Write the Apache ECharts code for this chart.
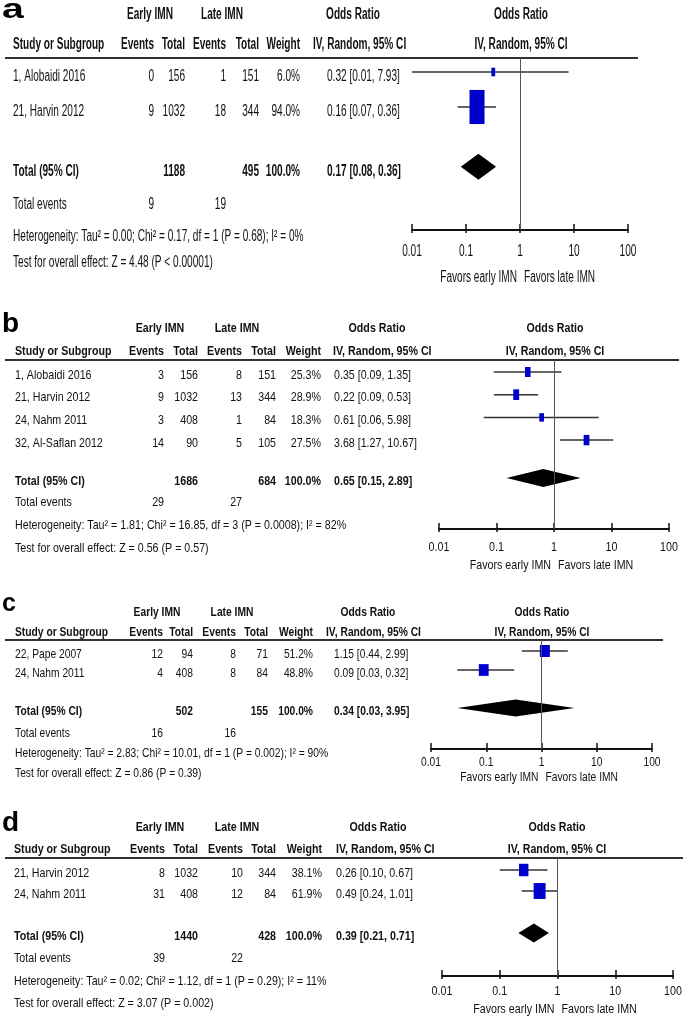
<!DOCTYPE html>
<html>
<head>
<meta charset="utf-8">
<script src="https://cdn.jsdelivr.net/npm/echarts@6/dist/echarts.min.js"></script>
<style>
html,body{margin:0;padding:0;background:#fff;}
#chart{width:685px;height:1020px;}
</style>
</head>
<body>
<div id="chart"></div>
<script>
// ---------------- DATA ----------------
const panelLetters = ['a', 'b', 'c', 'd'];
const tickValues = [0.01, 0.1, 1, 10, 100];
const tickLabels = ['0.01', '0.1', '1', '10', '100'];

// Panel a
const studiesA = ['1, Alobaidi 2016', '21, Harvin 2012'];
const earlyEventsA = [0, 9];
const earlyTotalA = [156, 1032];
const lateEventsA = [1, 18];
const lateTotalA = [151, 344];
const weightA = [6.0, 94.0];
const orA = [0.32, 0.16];
const loA = [0.01, 0.07];
const hiA = [7.93, 0.36];
const pooledA = [0.17, 0.08, 0.36];
const totalsA = [1188, 495];
const eventsA = [9, 19];
const hetA = 'Heterogeneity: Tau² = 0.00; Chi² = 0.17, df = 1 (P = 0.68); I² = 0%';
const testA = 'Test for overall effect: Z = 4.48 (P < 0.00001)';

// Panel b
const studiesB = ['1, Alobaidi 2016', '21, Harvin 2012', '24, Nahm 2011', '32, Al-Saflan 2012'];
const earlyEventsB = [3, 9, 3, 14];
const earlyTotalB = [156, 1032, 408, 90];
const lateEventsB = [8, 13, 1, 5];
const lateTotalB = [151, 344, 84, 105];
const weightB = [25.3, 28.9, 18.3, 27.5];
const orB = [0.35, 0.22, 0.61, 3.68];
const loB = [0.09, 0.09, 0.06, 1.27];
const hiB = [1.35, 0.53, 5.98, 10.67];
const pooledB = [0.65, 0.15, 2.89];
const totalsB = [1686, 684];
const eventsB = [29, 27];
const hetB = 'Heterogeneity: Tau² = 1.81; Chi² = 16.85, df = 3 (P = 0.0008); I² = 82%';
const testB = 'Test for overall effect: Z = 0.56 (P = 0.57)';

// Panel c
const studiesC = ['22, Pape 2007', '24, Nahm 2011'];
const earlyEventsC = [12, 4];
const earlyTotalC = [94, 408];
const lateEventsC = [8, 8];
const lateTotalC = [71, 84];
const weightC = [51.2, 48.8];
const orC = [1.15, 0.09];
const loC = [0.44, 0.03];
const hiC = [2.99, 0.32];
const pooledC = [0.34, 0.03, 3.95];
const totalsC = [502, 155];
const eventsC = [16, 16];
const hetC = 'Heterogeneity: Tau² = 2.83; Chi² = 10.01, df = 1 (P = 0.002); I² = 90%';
const testC = 'Test for overall effect: Z = 0.86 (P = 0.39)';

// Panel d
const studiesD = ['21, Harvin 2012', '24, Nahm 2011'];
const earlyEventsD = [8, 31];
const earlyTotalD = [1032, 408];
const lateEventsD = [10, 12];
const lateTotalD = [344, 84];
const weightD = [38.1, 61.9];
const orD = [0.26, 0.49];
const loD = [0.10, 0.24];
const hiD = [0.67, 1.01];
const pooledD = [0.39, 0.21, 0.71];
const totalsD = [1440, 428];
const eventsD = [39, 22];
const hetD = 'Heterogeneity: Tau² = 0.02; Chi² = 1.12, df = 1 (P = 0.29); I² = 11%';
const testD = 'Test for overall effect: Z = 3.07 (P = 0.002)';

// ---------------- LAYOUT (pixels / styles) ----------------
const FONT = '"Liberation Sans", Arial, Helvetica, sans-serif';
const TXT = '#111';
const layouts = [
  { letterY: 11, letterSx: 1.45, letterFs: 27, groupY: 15, colY: 45, ruleY: 58, ruleR: 638, plotL: 412, plotR: 628, axisY: 230,
    rowY0: 72, step: 35, totalIdx: 2.71, textDy: 5, eventsY: 205, hetY: 237, testY: 263, tickY: 252, favorsY: 278,
    fs: 16, sx: 0.63, study: 13, ev1R: 154, tot1R: 185, ev2R: 226, tot2R: 259, wR: 300, ivL: 313, orL: 327,
    earlyC: 150, lateC: 222, orC: 353, rightC: 521, boxK: 1.55, boxAsp: 2.27, diaH: 13 },
  { letterY: 324, letterSx: 1.0, letterFs: 28, groupY: 328, colY: 351, ruleY: 360, ruleR: 679, plotL: 439, plotR: 669, axisY: 529,
    rowY0: 372, step: 22.7, totalIdx: 4.67, textDy: 3, eventsY: 502, hetY: 525, testY: 548, tickY: 547, favorsY: 565,
    fs: 13.5, sx: 0.79, study: 15, ev1R: 164, tot1R: 198, ev2R: 242, tot2R: 276, wR: 321, ivL: 333, orL: 334,
    earlyC: 160, lateC: 237, orC: 377, rightC: 555, boxK: 1.1, boxAsp: 1.8, diaH: 9 },
  { letterY: 604, letterSx: 1.0, letterFs: 25, groupY: 612, colY: 632, ruleY: 640, ruleR: 663, plotL: 431, plotR: 652, axisY: 749,
    rowY0: 651, step: 19, totalIdx: 3.0, textDy: 3, eventsY: 733, hetY: 753, testY: 773, tickY: 762, favorsY: 777,
    fs: 13, sx: 0.79, study: 15, ev1R: 163, tot1R: 193, ev2R: 236, tot2R: 268, wR: 313, ivL: 326, orL: 334,
    earlyC: 157, lateC: 232, orC: 368, rightC: 542, boxK: 1.4, boxAsp: 1.2, diaH: 8.5 },
  { letterY: 823, letterSx: 1.0, letterFs: 28, groupY: 827, colY: 849, ruleY: 858, ruleR: 683, plotL: 442, plotR: 673, axisY: 976,
    rowY0: 870, step: 21, totalIdx: 3.0, textDy: 3, eventsY: 958, hetY: 981, testY: 1003, tickY: 991, favorsY: 1009,
    fs: 13.5, sx: 0.79, study: 14, ev1R: 165, tot1R: 198, ev2R: 243, tot2R: 276, wR: 322, ivL: 336, orL: 336,
    earlyC: 160, lateC: 237, orC: 378, rightC: 557, boxK: 1.52, boxAsp: 1.33, diaH: 9.5 }
];

const panels = [
  { studies: studiesA, ee: earlyEventsA, et: earlyTotalA, le: lateEventsA, lt: lateTotalA, w: weightA, or: orA, lo: loA, hi: hiA, pooled: pooledA, totals: totalsA, events: eventsA, het: hetA, test: testA },
  { studies: studiesB, ee: earlyEventsB, et: earlyTotalB, le: lateEventsB, lt: lateTotalB, w: weightB, or: orB, lo: loB, hi: hiB, pooled: pooledB, totals: totalsB, events: eventsB, het: hetB, test: testB },
  { studies: studiesC, ee: earlyEventsC, et: earlyTotalC, le: lateEventsC, lt: lateTotalC, w: weightC, or: orC, lo: loC, hi: hiC, pooled: pooledC, totals: totalsC, events: eventsC, het: hetC, test: testC },
  { studies: studiesD, ee: earlyEventsD, et: earlyTotalD, le: lateEventsD, lt: lateTotalD, w: weightD, or: orD, lo: loD, hi: hiD, pooled: pooledD, totals: totalsD, events: eventsD, het: hetD, test: testD }
];

// ---------------- BUILD ----------------
function txt(x, y, s, L, opt) {
  opt = opt || {};
  const fs = opt.fs || L.fs;
  const align = opt.align || 'left';
  return {
    type: 'text', x: x, y: y, scaleX: opt.sx != null ? opt.sx : L.sx, silent: true, z: 10,
    style: {
      text: s, font: (opt.bold ? 'bold ' : '') + fs + 'px ' + FONT, fill: opt.color || TXT,
      textAlign: align, align: align, textVerticalAlign: 'middle', verticalAlign: 'middle'
    }
  };
}
function fmtOR(o, l, h) { return o.toFixed(2) + ' [' + l.toFixed(2) + ', ' + h.toFixed(2) + ']'; }

const grids = [], xAxes = [], yAxes = [], series = [], graphics = [];

panels.forEach(function (P, i) {
  const L = layouts[i];
  grids.push({ left: L.plotL, top: L.ruleY, width: L.plotR - L.plotL, height: L.axisY - L.ruleY, containLabel: false });
  const common = { gridIndex: i, type: 'log', logBase: 10, min: 0.01, max: 100, position: 'bottom', splitLine: { show: false } };
  xAxes.push(Object.assign({}, common, {
    axisLine: { show: true, onZero: false, lineStyle: { color: '#111', width: 2 } },
    axisTick: { show: true, inside: true, length: 6, lineStyle: { color: '#111', width: 1.5 } },
    axisLabel: { show: false }
  }));
  xAxes.push(Object.assign({}, common, {
    axisLine: { show: false, onZero: false },
    axisTick: { show: true, inside: false, length: 3, lineStyle: { color: '#111', width: 1.5 } },
    axisLabel: { show: false }
  }));
  yAxes.push({
    gridIndex: i, type: 'value', inverse: true, show: false,
    min: (L.ruleY - L.rowY0) / L.step, max: (L.axisY - L.rowY0) / L.step
  });

  const studyData = P.studies.map(function (s, k) { return [P.or[k], k, P.lo[k], P.hi[k], P.w[k]]; });
  series.push({
    type: 'custom', xAxisIndex: 2 * i, yAxisIndex: i, silent: true, z: 3,
    data: studyData,
    encode: { x: 0, y: 1 },
    renderItem: function (params, api) {
      const idx = api.value(1);
      const c = api.coord([api.value(0), idx]);
      const pl = api.coord([api.value(2), idx]);
      const ph = api.coord([api.value(3), idx]);
      const bw = L.boxK * Math.sqrt(api.value(4));
      const bh = bw * L.boxAsp;
      return {
        type: 'group', children: [
          { type: 'line', shape: { x1: pl[0], y1: c[1], x2: ph[0], y2: c[1] }, style: { stroke: '#333', lineWidth: 1.5 } },
          { type: 'rect', shape: { x: c[0] - bw / 2, y: c[1] - bh / 2, width: bw, height: bh }, style: { fill: '#0000cc' } }
        ]
      };
    }
  });
  series.push({
    type: 'custom', xAxisIndex: 2 * i, yAxisIndex: i, silent: true, z: 3,
    data: [[P.pooled[0], L.totalIdx, P.pooled[1], P.pooled[2]]],
    encode: { x: 0, y: 1 },
    renderItem: function (params, api) {
      const idx = api.value(1);
      const c = api.coord([api.value(0), idx]);
      const pl = api.coord([api.value(2), idx]);
      const ph = api.coord([api.value(3), idx]);
      return {
        type: 'polygon',
        shape: { points: [[pl[0], c[1]], [c[0], c[1] - L.diaH], [ph[0], c[1]], [c[0], c[1] + L.diaH]] },
        style: { fill: '#000' }
      };
    },
    markLine: {
      silent: true, symbol: 'none', animation: false,
      label: { show: false },
      lineStyle: { color: '#555', width: 1, type: 'solid' },
      data: [{ xAxis: 1 }]
    }
  });

  // ---- table text ----
  graphics.push(txt(2, L.letterY, panelLetters[i], L, { fs: L.letterFs, bold: true, sx: L.letterSx, color: '#000' }));
  graphics.push(txt(L.earlyC, L.groupY, 'Early IMN', L, { bold: true, align: 'center' }));
  graphics.push(txt(L.lateC, L.groupY, 'Late IMN', L, { bold: true, align: 'center' }));
  graphics.push(txt(L.orC, L.groupY, 'Odds Ratio', L, { bold: true, align: 'center' }));
  graphics.push(txt(L.rightC, L.groupY, 'Odds Ratio', L, { bold: true, align: 'center' }));
  graphics.push(txt(L.study, L.colY, 'Study or Subgroup', L, { bold: true }));
  graphics.push(txt(L.ev1R, L.colY, 'Events', L, { bold: true, align: 'right' }));
  graphics.push(txt(L.tot1R, L.colY, 'Total', L, { bold: true, align: 'right' }));
  graphics.push(txt(L.ev2R, L.colY, 'Events', L, { bold: true, align: 'right' }));
  graphics.push(txt(L.tot2R, L.colY, 'Total', L, { bold: true, align: 'right' }));
  graphics.push(txt(L.wR, L.colY, 'Weight', L, { bold: true, align: 'right' }));
  graphics.push(txt(L.ivL, L.colY, 'IV, Random, 95% CI', L, { bold: true }));
  graphics.push(txt(L.rightC, L.colY, 'IV, Random, 95% CI', L, { bold: true, align: 'center' }));
  graphics.push({ type: 'line', silent: true, z: 5, shape: { x1: 5, y1: L.ruleY, x2: L.ruleR, y2: L.ruleY }, style: { stroke: '#333', lineWidth: 2 } });

  P.studies.forEach(function (s, k) {
    const y = L.rowY0 + k * L.step + L.textDy;
    graphics.push(txt(L.study, y, s, L));
    graphics.push(txt(L.ev1R, y, String(P.ee[k]), L, { align: 'right' }));
    graphics.push(txt(L.tot1R, y, String(P.et[k]), L, { align: 'right' }));
    graphics.push(txt(L.ev2R, y, String(P.le[k]), L, { align: 'right' }));
    graphics.push(txt(L.tot2R, y, String(P.lt[k]), L, { align: 'right' }));
    graphics.push(txt(L.wR, y, P.w[k].toFixed(1) + '%', L, { align: 'right' }));
    graphics.push(txt(L.orL, y, fmtOR(P.or[k], P.lo[k], P.hi[k]), L));
  });
  const ty = L.rowY0 + L.totalIdx * L.step + L.textDy;
  const wsum = P.w.reduce(function (a, b) { return a + b; }, 0);
  graphics.push(txt(L.study, ty, 'Total (95% CI)', L, { bold: true }));
  graphics.push(txt(L.tot1R, ty, String(P.totals[0]), L, { bold: true, align: 'right' }));
  graphics.push(txt(L.tot2R, ty, String(P.totals[1]), L, { bold: true, align: 'right' }));
  graphics.push(txt(L.wR, ty, wsum.toFixed(1) + '%', L, { bold: true, align: 'right' }));
  graphics.push(txt(L.orL, ty, fmtOR(P.pooled[0], P.pooled[1], P.pooled[2]), L, { bold: true }));
  graphics.push(txt(L.study, L.eventsY, 'Total events', L));
  graphics.push(txt(L.ev1R, L.eventsY, String(P.events[0]), L, { align: 'right' }));
  graphics.push(txt(L.ev2R, L.eventsY, String(P.events[1]), L, { align: 'right' }));
  graphics.push(txt(L.study, L.hetY, P.het, L));
  graphics.push(txt(L.study, L.testY, P.test, L));
});

const chart = echarts.init(document.getElementById('chart'), null, { renderer: 'canvas' });
chart.setOption({
  animation: false,
  backgroundColor: '#fff',
  grid: grids,
  xAxis: xAxes,
  yAxis: yAxes,
  series: series,
  graphic: { elements: graphics }
});

// Tick labels and "Favors" captions, positioned through each panel's log axis
const extra = [];
panels.forEach(function (P, i) {
  const L = layouts[i];
  tickValues.forEach(function (t, k) {
    const px = chart.convertToPixel({ xAxisIndex: 2 * i }, t);
    extra.push(txt(px, L.tickY, tickLabels[k], L, { align: 'center' }));
  });
  const x1 = chart.convertToPixel({ xAxisIndex: 2 * i }, 1);
  extra.push(txt(x1 - 3, L.favorsY, 'Favors early IMN', L, { align: 'right' }));
  extra.push(txt(x1 + 4, L.favorsY, 'Favors late IMN', L, { align: 'left' }));
});
chart.setOption({ graphic: { elements: graphics.concat(extra) } });
</script>
</body>
</html>
